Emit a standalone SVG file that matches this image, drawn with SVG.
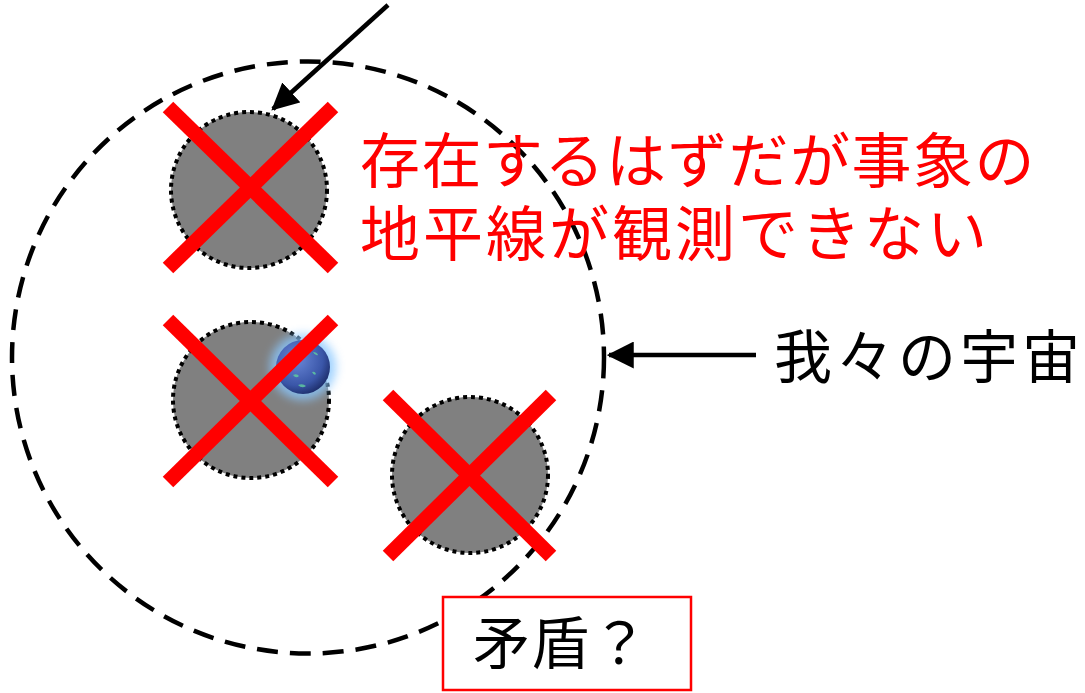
<svg xmlns="http://www.w3.org/2000/svg" width="1085" height="693" viewBox="0 0 1085 693">
  <style>
    .hole { fill: #808080; stroke: #000; stroke-width: 4; stroke-dasharray: 4 4; }
    .cross { stroke: #ff0000; stroke-width: 15; stroke-linecap: butt; }
    .jp { font-family: "Noto Sans CJK JP", "Noto Sans", sans-serif; }
    .conn { stroke: #000; stroke-width: 4.5; fill: none; }
  </style>
  <defs>
    <marker id="arrow" markerWidth="6" markerHeight="6" refX="5.5" refY="3" orient="auto" markerUnits="strokeWidth" viewBox="0 0 6 6">
      <path d="M0,0 L6,3 L0,6 z" fill="#000"/>
    </marker>
    <radialGradient id="earthFill" cx="0.38" cy="0.35" r="0.7">
      <stop offset="0" stop-color="#6a88d8"/>
      <stop offset="0.7" stop-color="#3a56a8"/>
      <stop offset="1" stop-color="#1c2c68"/>
    </radialGradient>
    <filter id="glow" x="-50%" y="-50%" width="200%" height="200%">
      <feGaussianBlur stdDeviation="5"/>
    </filter>
  </defs>

  <rect width="1085" height="693" fill="#fff"/>

  <!-- universe boundary -->
  <g id="universe">
    <circle cx="308" cy="357.5" r="296" fill="none" stroke="#000" stroke-width="4.5" stroke-dasharray="21 12"/>
  </g>

  <!-- black hole 1 -->
  <g id="hole1">
    <circle class="hole" cx="249" cy="190" r="78"/>
    <line class="cross" x1="168" y1="107" x2="333" y2="268"/>
    <line class="cross" x1="333" y1="107" x2="168" y2="268"/>
  </g>

  <!-- black hole 2 with earth -->
  <g id="hole2">
    <circle class="hole" cx="251" cy="400" r="78"/>
    <g id="earth">
      <circle cx="303" cy="367" r="33" fill="#8ac8ff" opacity="0.8" filter="url(#glow)"/>
      <circle cx="303" cy="367" r="27" fill="url(#earthFill)"/>
      <path d="M283,362 q3,-10 11,-11 q4,3 1,8 q-5,1 -5,6 q-4,3 -7,-3z" fill="#5fc8a0" opacity="0.85"/>
      <path d="M300,348 q5,-1 7,2 q-3,3 -7,-2z M313,352 q4,0 5,3 q-3,1 -5,-3z" fill="#5fc8a0" opacity="0.85"/>
      <path d="M293,375 q4,-2 6,1 q-3,3 -6,-1z M298,385 q5,-2 8,1 q-4,3 -8,-1z M312,372 q3,-1 4,2 q-2,2 -4,-2z" fill="#5fc8a0" opacity="0.85"/>
    </g>
    <line class="cross" x1="168" y1="320" x2="333" y2="482"/>
    <line class="cross" x1="333" y1="320" x2="168" y2="482"/>
  </g>

  <!-- black hole 3 -->
  <g id="hole3">
    <circle class="hole" cx="470" cy="475" r="78"/>
    <line class="cross" x1="388" y1="395" x2="551" y2="556"/>
    <line class="cross" x1="551" y1="395" x2="388" y2="556"/>
  </g>

  <!-- connectors -->
  <g id="connectors">
    <line class="conn" x1="388" y1="5" x2="273" y2="109" marker-end="url(#arrow)"/>
    <line class="conn" x1="756" y1="355" x2="609" y2="355" marker-end="url(#arrow)"/>
  </g>

  <!-- labels -->
  <g id="horizon-label">
    <text class="jp" x="360" y="183" font-size="60" letter-spacing="1.5" fill="#ff0000">存在するはずだが事象の</text>
    <text class="jp" x="360" y="256" font-size="60" letter-spacing="3" fill="#ff0000">地平線が観測できない</text>
  </g>

  <g id="universe-label">
    <text class="jp" x="774" y="378" font-size="58" letter-spacing="4" fill="#000">我々の宇宙</text>
  </g>

  <g id="contradiction">
    <rect x="443" y="597" width="248" height="93" fill="#fff" stroke="#ff0000" stroke-width="2.5"/>
    <text class="jp" x="473" y="664" font-size="57" letter-spacing="2" fill="#000">矛盾？</text>
  </g>
</svg>
